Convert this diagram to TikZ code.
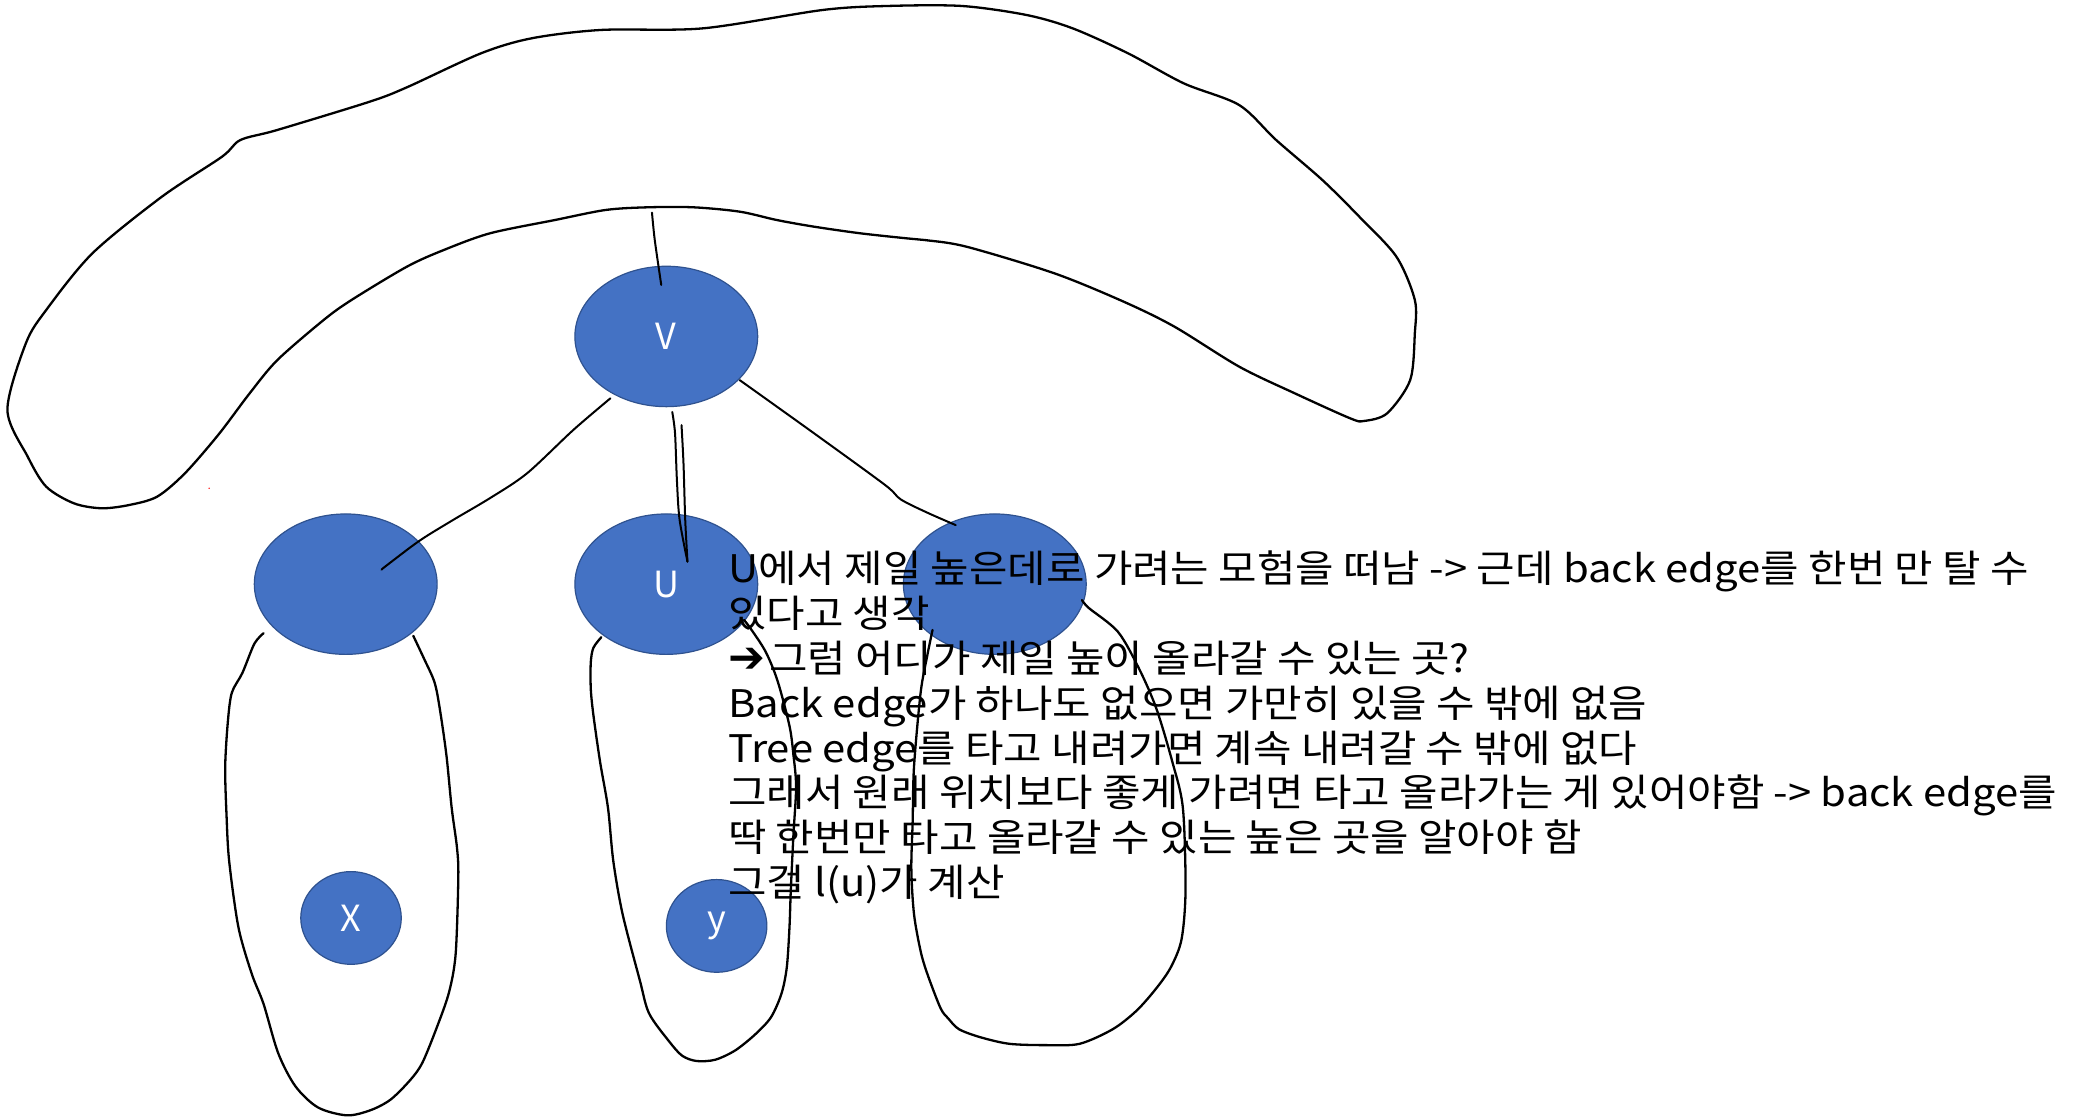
\documentclass[tikz,border=0pt]{standalone}
\usepackage{fontspec}
\setmainfont{Noto Sans CJK KR}
\newfontfamily\txtfont[FakeStretch=1.1]{Noto Sans CJK KR}
\newfontfamily\dv{DejaVu Sans}
\usetikzlibrary{shapes.geometric}
\definecolor{nodefill}{HTML}{4472C4}
\definecolor{nodeline}{HTML}{2F528F}
\tikzset{
  bignode/.style={ellipse, fill=nodefill, draw=nodeline, line width=1.2pt,
    minimum width=182.8pt, minimum height=140.4pt, inner sep=0pt,
    text=white, font=\fontsize{36}{40}\selectfont},
  smallnode/.style={bignode, minimum width=100.5pt, minimum height=92.7pt},
  stroke/.style={line width=2.3pt, line join=round, line cap=round},
  thin stroke/.style={line width=2pt, line join=round, line cap=round},
  txt/.style={anchor=base west, inner sep=0pt, font=\txtfont\fontsize{38}{44.8}\selectfont}
}
\begin{document}
\begin{tikzpicture}[x=1.3246pt, y=-1.3246pt]
\useasboundingbox (0,0) rectangle (1568,845);
\fill[white] (0,0) rectangle (1568,845);

% nodes
\node[bignode] (V) at (503,254) {V};
\node[bignode] (L) at (261,441) {};
\node[bignode] (U) at (503,441) {U};
\node[bignode] (R) at (751,441) {};
\node[smallnode] (X) at (265,693) {X};
\node[smallnode] (Y) at (541,699) {y};

% text
\node[txt] (t1) at (549.6,440.1) {U에서 제일 높은데로 가려는 모험을 떠남 -> 근데 back edge를 한번 만 탈 수};
\node[txt] (t2) at (549.6,473.9) {있다고 생각};
\node[txt] (t3) at (549.6,507.7) {{\dv\bfseries\fontsize{44}{44}\selectfont ➔}\hspace{4pt}그럼 어디가 제일 높이 올라갈 수 있는 곳?};
\node[txt] (t4) at (549.6,541.6) {Back edge가 하나도 없으면 가만히 있을 수 밖에 없음};
\node[txt] (t5) at (549.6,575.4) {Tree edge를 타고 내려가면 계속 내려갈 수 밖에 없다};
\node[txt] (t6) at (549.6,609.2) {그래서 원래 위치보다 좋게 가려면 타고 올라가는 게 있어야함 -> back edge를};
\node[txt] (t7) at (549.6,643.0) {딱 한번만 타고 올라갈 수 있는 높은 곳을 알아야 함};
\node[txt] (t8) at (549.6,676.8) {그걸 l(u)가 계산};

% big outer blob
\draw[stroke] plot[smooth cycle, tension=0.5] coordinates {
 (5.6,309.5) (19.5,259.2) (34.9,234) (69.8,191.2) (122.2,148.5) (167.6,118.3)
 (181.5,105.7) (209.4,98.1) (279.3,76.7) (307.2,65.9) (363,40.3) (401.4,28.9)
 (453.8,22.6) (530.6,21.4) (621.3,7.5) (670.2,4.5) (726,4.5) (774.9,11.3)
 (809.8,21.4) (851.7,40.3) (893.6,62.9) (935.5,79.3) (963.4,105.7) (998.3,135.9)
 (1026.2,163.6) (1054.2,193.8) (1068.1,226.5) (1068.1,251.6) (1064.6,286.9)
 (1047.2,312) (1029.7,317.8) (1019.3,315.8) (977.4,296.9) (935.5,276.8)
 (886.6,246.6) (848.2,227.7) (795.9,206.3) (729.5,186.2) (698.1,181.2)
 (684.2,179.9) (649.3,176.1) (614.4,171.1) (586.4,166.1) (558.5,159.8)
 (523.6,156.5) (488.7,156.5) (457.3,158.5) (418.9,166.1) (370,176.1)
 (335.1,188.7) (307.2,201.3) (265.3,226.5) (244.3,241.6) (209.4,271.8)
 (188.5,296.9) (165,328) (139.6,357.3) (118.7,374.9) (97.7,381.2) (76.8,383.7)
 (55.9,380) (34.9,367.4) (20.9,344.7)};

% stroke from blob into V
\draw[thin stroke] plot[smooth, tension=0.5] coordinates {(492.2,160.5) (494.3,181.2) (499.2,215.1)};

% tree edges
\draw[thin stroke] plot[smooth, tension=0.5] coordinates {
 (460.8,300.7) (432.8,324.6) (397.9,357.3) (370,376) (342.1,392.5) (317,408) (293,426) (288,430)};
\draw[thin stroke] plot[smooth, tension=0.5] coordinates {
 (507.5,311) (509.6,327) (511,362) (513,392) (519,424)};
\draw[thin stroke] plot[smooth, tension=0.5] coordinates {
 (514.5,321) (516,350) (517.3,392.5) (519,424)};
\draw[thin stroke] plot[smooth, tension=0.5] coordinates {
 (558.5,287) (614.4,327) (668,366) (680,377) (700,387) (721.5,396.4)};

% left blob (X)
\draw[stroke] plot[smooth, tension=0.5] coordinates {
 (199,478) (192,486) (183,508) (175,523) (172,545) (170,579) (171,615) (173,650)
 (180,700) (190,735) (199,758) (210,795) (223,820) (240,836) (262,842) (280,838)
 (295,830) (310,815) (319,802) (330,775) (339,749) (344,720) (346,662) (345,640)
 (341,610) (337,570) (332,535) (328,515) (320,497) (312,480)};

% middle blob (y)
\draw[stroke] plot[smooth, tension=0.5] coordinates {
 (454,481) (448,489) (446,500) (446,520) (448,540) (453,575) (459,610) (463,650)
 (470,690) (483,740) (490,765) (505,786) (515,797) (526,801) (540,800) (555,793)
 (570,781) (582,768) (590,750) (594,730) (596,700) (597,672) (599,630) (601,594)
 (599,570) (596,548) (587,514) (578,492) (567,475) (561.7,468)};

% right blob
\draw[stroke] plot[smooth, tension=0.5] coordinates {
 (816.8,453) (822,459) (844,477) (860,505) (873,535) (885,575) (893,610) (895,672)
 (892,709) (884,730) (873,746) (858,763) (840,777) (815,788) (790,789) (762,788)
 (740,783) (724,777) (716,769) (710,761) (700,735) (695,718) (690,690) (688,656)
 (689,620) (690,579) (695,523) (700,495) (704,475.6)};

% red speck
\fill[red] (157.9,368.6) circle[radius=0.8pt];
\end{tikzpicture}
\end{document}
